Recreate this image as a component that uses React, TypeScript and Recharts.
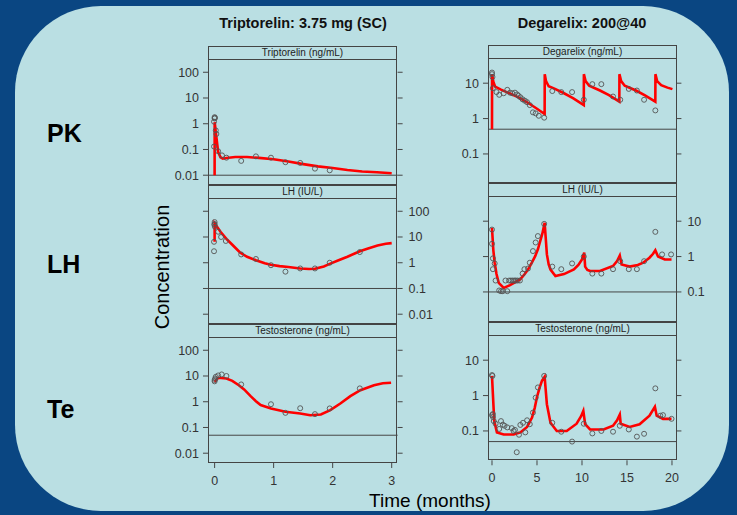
import React from 'react';
import { ComposedChart, Line, Scatter, XAxis, YAxis, ReferenceLine } from 'recharts';

type Pt = { t: number; v: number };
const pts = (a: number[][]): Pt[] => a.map(([t, v]) => ({ t, v }));

// column titles, row labels, strip labels
const colTitles = ['Triptorelin: 3.75 mg (SC)', 'Degarelix: 200@40'];
const rowLabels = ['PK', 'LH', 'Te'];
const tripStrips = ['Triptorelin (ng/mL)', 'LH (IU/L)', 'Testosterone (ng/mL)'];
const degStrips = ['Degarelix (ng/mL)', 'LH (IU/L)', 'Testosterone (ng/mL)'];

// axis ticks
const tripMonths = [0, 1, 2, 3];
const degMonths = [0, 5, 10, 15, 20];
const tripConcTicks = [0.01, 0.1, 1, 10, 100];
const degConcTicks = [0.1, 1, 10];

// lower limits of quantification (horizontal lines)
const tripLloq = [0.01, 0.1, 0.05];
const degLloq = [0.5, 0.1, 0.05];

// triptorelin arm
const tripObs = pts([[0,1.8],[0,1.6],[0.005,1.7],[-0.01,1.2],[0.02,0.55],[0.03,0.4],[-0.01,0.13],[0.06,0.085],[0.125,0.059],[0.2,0.048],[0.45,0.036],[0.7,0.054],[0.955,0.048],[1.2,0.032],[1.45,0.03],[1.7,0.018],[1.95,0.0155]]);
const tripModel = pts([[0,0.01],[0.001,1.15],[0.03,0.3],[0.06,0.08],[0.1,0.05],[0.14,0.044],[0.2,0.047],[0.35,0.051],[0.55,0.051],[0.75,0.047],[1.0,0.042],[1.25,0.034],[1.5,0.027],[1.75,0.022],[2.0,0.019],[2.25,0.016],[2.5,0.014],[2.75,0.013],[3.0,0.012]]);
const tripLhObs = pts([[0,38],[0,32],[-0.005,30],[0.005,25],[0.06,16],[-0.01,6.5],[-0.01,2.8],[0.11,10],[0.19,7],[0.45,2.1],[0.7,1.4],[0.955,0.8],[1.2,0.45],[1.45,0.6],[1.7,0.6],[1.95,1.0],[2.46,2.6]]);
const tripLhModel = pts([[0,6.5],[0.001,34],[0.1,16],[0.2,8.5],[0.3,5],[0.43,2.5],[0.55,1.7],[0.7,1.25],[0.85,0.95],[0.95,0.83],[1.1,0.74],[1.25,0.68],[1.45,0.6],[1.6,0.57],[1.7,0.58],[1.85,0.72],[1.95,0.9],[2.1,1.25],[2.25,1.7],[2.46,2.8],[2.6,3.6],[2.76,4.7],[2.9,5.5],[3.0,5.8]]);
const tripTeObs = pts([[0,7],[0,6.2],[0.01,8],[0.02,9.3],[0.06,10.5],[0.12,11.5],[0.2,10],[0.45,4.7],[0.955,0.8],[1.2,0.37],[1.45,0.56],[1.7,0.33],[1.95,0.55],[2.46,3.3]]);
const tripTeModel = pts([[0,5.9],[0.06,8.5],[0.2,8],[0.3,6.5],[0.41,4.4],[0.5,3],[0.61,1.65],[0.7,1.05],[0.78,0.74],[0.955,0.55],[1.2,0.41],[1.45,0.35],[1.62,0.3],[1.8,0.32],[1.96,0.47],[2.13,0.85],[2.3,1.65],[2.47,2.8],[2.7,4.4],[2.85,5.2],[2.99,5.5]]);

// degarelix arm
const degObs = pts([[0,20],[0,18],[0.05,15],[0.1,7.2],[0.5,5.6],[0.8,4.7],[1.3,5.2],[1.7,6.5],[2.0,5.4],[2.25,5.2],[2.55,5.4],[2.8,4.8],[2.95,4.4],[3.15,4.0],[3.4,3.5],[3.65,3.2],[3.9,2.9],[4.2,2.4],[4.55,1.5],[4.85,1.4],[5.2,1.2],[5.8,1.06],[6.7,6.0],[7.7,5.6],[8.9,5.6],[10.2,3.4],[11.15,9.4],[12.15,9.4],[13.45,4.2],[14.25,3.4],[15.2,6.9],[16.1,6.2],[16.9,3.4],[18.15,1.7]]);
const degModel = pts([[0,0.5],[0.01,18],[0.15,11],[0.35,8],[1,6.6],[2,5.1],[3,3.9],[4,2.8],[5,1.9],[5.85,1.35],[5.86,18],[6.0,11.5],[6.3,8.2],[7,6.9],[8,5.2],[9,3.8],[10.2,2.4],[10.21,18],[10.4,11.5],[10.8,8.5],[12,6.2],[13,4.6],[14.15,3.0],[14.16,18],[14.35,11.5],[14.75,8.5],[16,6.2],[17,4.5],[18.15,3.0],[18.16,18],[18.35,11.5],[18.8,8.8],[19.5,7.5],[20.05,6.8]]);
const degLhObs = pts([[0,5.8],[0,2.3],[0.1,0.89],[0.3,0.64],[0.1,0.44],[0.4,0.21],[0.8,0.11],[1.0,0.105],[1.2,0.105],[1.5,0.21],[1.7,0.105],[1.9,0.21],[2.1,0.21],[2.3,0.21],[2.5,0.21],[2.65,0.21],[2.85,0.21],[3.1,0.21],[3.4,0.33],[3.6,0.44],[4.0,0.46],[4.2,0.67],[4.55,1.43],[4.85,2.5],[5.1,3.8],[5.8,8.4],[6.7,0.52],[7.7,0.44],[8.9,0.64],[10.2,1.0],[11.15,0.33],[12.15,0.33],[13.45,0.44],[14.25,0.74],[15.2,0.44],[16.1,0.44],[16.9,0.74],[18.15,5.0],[18.9,1.15],[19.9,1.15]]);
const degLhModel = pts([[0,6.5],[0.15,1.5],[0.3,0.67],[0.5,0.32],[0.75,0.18],[1.3,0.13],[2.0,0.155],[2.6,0.19],[3.15,0.23],[3.6,0.31],[4.0,0.43],[4.4,0.65],[4.8,1.03],[5.1,1.6],[5.35,2.7],[5.6,4.5],[5.85,9.0],[6.1,1.15],[6.3,0.6],[6.5,0.43],[7.05,0.28],[8.0,0.32],[9.1,0.43],[9.6,0.58],[10.0,0.83],[10.25,1.3],[10.35,0.52],[10.6,0.42],[10.9,0.39],[12.0,0.39],[13.45,0.54],[13.9,0.75],[14.2,1.07],[14.4,0.6],[15.3,0.52],[16.2,0.58],[16.8,0.67],[17.5,0.93],[17.9,1.2],[18.15,1.5],[18.45,1.0],[19.2,0.83],[19.95,0.83]]);
const degTeObs = pts([[0,3.8],[0.05,3.6],[0,0.28],[0.1,0.3],[0.1,0.25],[0.2,0.19],[0.4,0.16],[0.8,0.114],[1.0,0.19],[1.2,0.15],[1.4,0.14],[1.7,0.126],[2.2,0.12],[2.4,0.1],[2.55,0.107],[2.75,0.025],[3.0,0.078],[3.15,0.148],[3.45,0.17],[3.7,0.091],[3.9,0.2],[4.2,0.155],[4.55,0.33],[4.85,0.87],[5.1,1.7],[5.8,3.6],[6.7,0.17],[7.7,0.095],[8.9,0.05],[10.2,0.16],[11.15,0.085],[12.15,0.1],[13.45,0.095],[14.2,0.14],[15.2,0.11],[16.1,0.069],[16.9,0.083],[18.15,1.6],[18.7,0.27],[19.0,0.28],[19.95,0.22]]);
const degTeModel = pts([[0,3.6],[0.1,1.1],[0.25,0.19],[0.55,0.091],[1.3,0.079],[2.4,0.08],[3.15,0.091],[3.9,0.13],[4.45,0.24],[4.75,0.45],[5.0,0.91],[5.3,1.7],[5.55,2.6],[5.85,3.4],[6.1,0.57],[6.5,0.17],[7.2,0.1],[8.3,0.1],[9.4,0.16],[9.9,0.26],[10.15,0.37],[10.35,0.155],[10.9,0.11],[12.4,0.11],[13.45,0.14],[13.9,0.2],[14.2,0.29],[14.3,0.16],[15.3,0.13],[16.4,0.155],[17.5,0.27],[18.1,0.48],[18.3,0.27],[19.0,0.22],[19.95,0.22]]);

const tripObsRows = [tripObs, tripLhObs, tripTeObs];
const tripModelRows = [tripModel, tripLhModel, tripTeModel];
const degObsRows = [degObs, degLhObs, degTeObs];
const degModelRows = [degModel, degLhModel, degTeModel];

const INK = '#444';
const FONT = '"Liberation Sans", Arial, sans-serif';
const AX = 50;
const PAD_T = 10;
const PAD_B = 30;
const STRIP = 13;

const noTick = () => <g />;
const ring = (props: any) => (
  <circle cx={props.cx} cy={props.cy} r={2.5} fill="none" stroke="#555" strokeWidth={0.9} />
);

interface PanelProps {
  left: number;
  top: number;
  width: number;
  height: number;
  xDomain: [number, number];
  xTicks: number[];
  yDomain: [number, number];
  yTicks: number[];
  labelRight: boolean;
  first: boolean;
  last: boolean;
  strip: string;
  lloq: number;
  obs: Pt[];
  model: Pt[];
}

function Panel(p: PanelProps) {
  const tickStyle = { fill: '#333', fontSize: 12.5, fontFamily: FONT };
  return (
    <>
      <div style={{ position: 'absolute', left: p.left - AX, top: p.top - PAD_T }}>
        <ComposedChart
          width={p.width + 2 * AX}
          height={p.height + PAD_T + PAD_B}
          margin={{ top: p.first ? 0 : PAD_T, bottom: p.last ? 0 : PAD_B, left: 0, right: 0 }}
        >
          <XAxis
            xAxisId="b"
            type="number"
            dataKey="t"
            domain={p.xDomain}
            ticks={p.xTicks}
            allowDataOverflow
            hide={!p.last}
            height={PAD_B}
            axisLine={false}
            tickSize={5}
            tickMargin={8}
            stroke={INK}
            tick={tickStyle}
          />
          {p.first && (
            <XAxis
              xAxisId="t"
              orientation="top"
              type="number"
              domain={p.xDomain}
              ticks={p.xTicks}
              allowDataOverflow
              height={PAD_T}
              axisLine={false}
              tickSize={5}
              stroke={INK}
              tick={noTick}
            />
          )}
          <YAxis
            yAxisId="l"
            type="number"
            dataKey="v"
            scale="log"
            domain={p.yDomain}
            ticks={p.yTicks}
            allowDataOverflow
            width={AX}
            axisLine={false}
            tickSize={5}
            tickMargin={4}
            stroke={INK}
            tickFormatter={(v: number) => String(v)}
            tick={p.labelRight ? noTick : tickStyle}
          />
          <YAxis
            yAxisId="r"
            orientation="right"
            type="number"
            scale="log"
            domain={p.yDomain}
            ticks={p.yTicks}
            allowDataOverflow
            width={AX}
            axisLine={false}
            tickSize={5}
            tickMargin={6}
            stroke={INK}
            tickFormatter={(v: number) => String(v)}
            tick={p.labelRight ? tickStyle : noTick}
          />
          <ReferenceLine xAxisId="b" yAxisId="l" y={p.lloq} stroke={INK} strokeWidth={1} />
          <Scatter xAxisId="b" yAxisId="l" data={p.obs} dataKey="v" shape={ring} isAnimationActive={false} />
          <Line
            xAxisId="b"
            yAxisId="l"
            data={p.model}
            dataKey="v"
            type="linear"
            stroke="#ff0000"
            strokeWidth={2.6}
            dot={false}
            isAnimationActive={false}
          />
        </ComposedChart>
      </div>
      <div
        style={{
          position: 'absolute',
          left: p.left,
          top: p.top,
          width: p.width,
          height: p.height,
          border: `1px solid ${INK}`,
          boxSizing: 'border-box',
          pointerEvents: 'none',
        }}
      />
      <div
        style={{
          position: 'absolute',
          left: p.left,
          top: p.top,
          width: p.width,
          height: STRIP,
          borderBottom: `1px solid ${INK}`,
          textAlign: 'center',
          fontSize: 10,
          lineHeight: `${STRIP}px`,
          color: '#222',
          fontFamily: FONT,
        }}
      >
        {p.strip}
      </div>
    </>
  );
}

// layout of the two columns
const cols = [
  {
    left: 207.7, width: 189.6, tops: [46, 185, 324], height: 139,
    xDomain: [-0.112, 3.1] as [number, number], xTicks: tripMonths,
    yDomain: [Math.pow(10, -2.38), Math.pow(10, 3.02)] as [number, number], yTicks: tripConcTicks,
    strips: tripStrips, lloq: tripLloq, obs: tripObsRows, model: tripModelRows,
  },
  {
    left: 488.3, width: 188.4, tops: [45, 183.3, 321.6], height: 138.3,
    xDomain: [-0.444, 20.49] as [number, number], xTicks: degMonths,
    yDomain: [Math.pow(10, -1.83), Math.pow(10, 2.08)] as [number, number], yTicks: degConcTicks,
    strips: degStrips, lloq: degLloq, obs: degObsRows, model: degModelRows,
  },
];

export default function App() {
  return (
    <div style={{ position: 'absolute', left: 0, top: 0, width: 737, height: 515, background: '#0a4682', overflow: 'hidden', fontFamily: FONT }}>
      <div style={{ position: 'absolute', left: 15, top: 6, width: 714, height: 505, background: '#badfe3', borderRadius: 86 }} />
      {colTitles.map((t, i) => (
        <div key={t} style={{ position: 'absolute', left: i === 0 ? 193 : 472, top: 15, width: 220, textAlign: 'center', fontWeight: 'bold', fontSize: 14.5, color: '#111' }}>
          {t}
        </div>
      ))}
      {rowLabels.map((t, i) => (
        <div key={t} style={{ position: 'absolute', left: 47, top: [119, 250, 395][i], fontWeight: 'bold', fontSize: 25, color: '#000' }}>
          {t}
        </div>
      ))}
      <div style={{ position: 'absolute', left: 162, top: 267, transform: 'translate(-50%, -50%) rotate(-90deg)', fontSize: 20, color: '#000', whiteSpace: 'nowrap' }}>
        Concentration
      </div>
      <div style={{ position: 'absolute', left: 430, top: 501, transform: 'translate(-50%, -50%)', fontSize: 19, color: '#000', whiteSpace: 'nowrap' }}>
        Time (months)
      </div>
      {cols.map((c, ci) =>
        c.tops.map((top, ri) => (
          <Panel
            key={`${ci}-${ri}`}
            left={c.left}
            top={top}
            width={c.width}
            height={c.height}
            xDomain={c.xDomain}
            xTicks={c.xTicks}
            yDomain={c.yDomain}
            yTicks={c.yTicks}
            labelRight={ri === 1}
            first={ri === 0}
            last={ri === 2}
            strip={c.strips[ri]}
            lloq={c.lloq[ri]}
            obs={c.obs[ri]}
            model={c.model[ri]}
          />
        ))
      )}
    </div>
  );
}
